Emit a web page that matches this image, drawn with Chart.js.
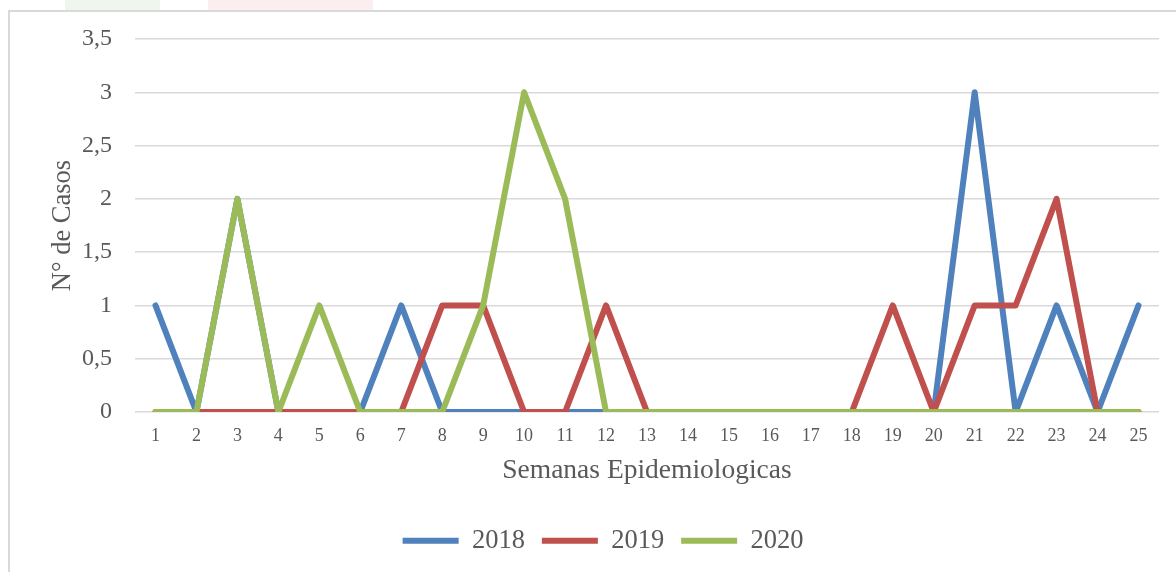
<!DOCTYPE html>
<html lang="es">

<head>
    <meta charset="UTF-8">
    <title>Casos por semana epidemiologica</title>
    <script src="https://cdn.jsdelivr.net/npm/chart.js"></script>
    <style>
        html, body { margin: 0; padding: 0; background: #fff; overflow: hidden; }
        .wm { position: absolute; top: 0; height: 10px; }
        .frame { position: absolute; left: 8px; top: 10px; width: 1200px; height: 600px; border: 2px solid #d9d9d9; }
        .wrap { position: absolute; left: 0; top: 0; width: 1176px; height: 572px; }
    </style>
</head>

<body>
    <div class="wm" style="left:65px;width:95px;background:#eef6ee"></div>
    <div class="wm" style="left:208px;width:165px;background:#fbeeee"></div>
    <div class="frame"></div>
    <div class="wrap"><canvas id="casosChart"></canvas></div>

    <script>
        const semanas = ['1', '2', '3', '4', '5', '6', '7', '8', '9', '10', '11', '12', '13',
            '14', '15', '16', '17', '18', '19', '20', '21', '22', '23', '24', '25'];
        const casos2018 = [1, 0, 2, 0, 0, 0, 1, 0, 0, 0, 0, 0, 0, 0, 0, 0, 0, 0, 0, 0, 3, 0, 1, 0, 1];
        const casos2019 = [0, 0, 0, 0, 0, 0, 0, 1, 1, 0, 0, 1, 0, 0, 0, 0, 0, 0, 1, 0, 1, 1, 2, 0, 0];
        const casos2020 = [0, 0, 2, 0, 1, 0, 0, 0, 1, 3, 2, 0, 0, 0, 0, 0, 0, 0, 0, 0, 0, 0, 0, 0, 0];

        const fontFam = '"Liberation Serif", serif';
        const gris = '#595959';

        function serie(label, data, color, order) {
            return {
                label: label,
                data: data,
                borderColor: color,
                backgroundColor: color,
                borderWidth: 6,
                borderCapStyle: 'round',
                borderJoinStyle: 'round',
                pointRadius: 0,
                tension: 0,
                order: order
            };
        }

        new Chart(document.getElementById('casosChart'), {
            type: 'line',
            data: {
                labels: semanas,
                datasets: [
                    serie('2018', casos2018, '#4f81bd', 3),
                    serie('2019', casos2019, '#c0504d', 2),
                    serie('2020', casos2020, '#9bbb59', 1)
                ]
            },
            options: {
                responsive: true,
                maintainAspectRatio: false,
                animation: false,
                layout: { padding: { left: 47, right: 17, top: 39, bottom: 8 } },
                plugins: {
                    tooltip: { enabled: false },
                    legend: {
                        position: 'bottom',
                        labels: {
                            sort: (a, b) => a.datasetIndex - b.datasetIndex,
                            usePointStyle: true,
                            pointStyle: 'line',
                            pointStyleWidth: 56,
                            padding: 17,
                            color: gris,
                            font: { family: fontFam, size: 26.5 }
                        }
                    }
                },
                scales: {
                    x: {
                        offset: true,
                        grid: { display: false, drawTicks: false },
                        border: { display: false },
                        ticks: { color: gris, padding: 13, maxRotation: 0, font: { family: fontFam, size: 18 } },
                        title: {
                            display: true,
                            text: 'Semanas Epidemiologicas',
                            color: gris,
                            padding: { top: 0, bottom: 23 },
                            font: { family: fontFam, size: 27.5 }
                        },
                        afterFit: (s) => { s.height = 98.5; }
                    },
                    y: {
                        min: 0,
                        max: 3.5,
                        ticks: {
                            stepSize: 0.5,
                            padding: 23,
                            color: gris,
                            font: { family: fontFam, size: 24 },
                            callback: (v) => String(v).replace('.', ',')
                        },
                        grid: { color: '#d9d9d9', lineWidth: 1.5, drawTicks: false },
                        border: { display: false },
                        title: {
                            display: true,
                            text: 'N° de Casos',
                            color: gris,
                            padding: { top: 0, bottom: 0 },
                            font: { family: fontFam, size: 26.5 }
                        },
                        afterFit: (s) => { s.width = 88; }
                    }
                }
            }
        });
    </script>
</body>

</html>
